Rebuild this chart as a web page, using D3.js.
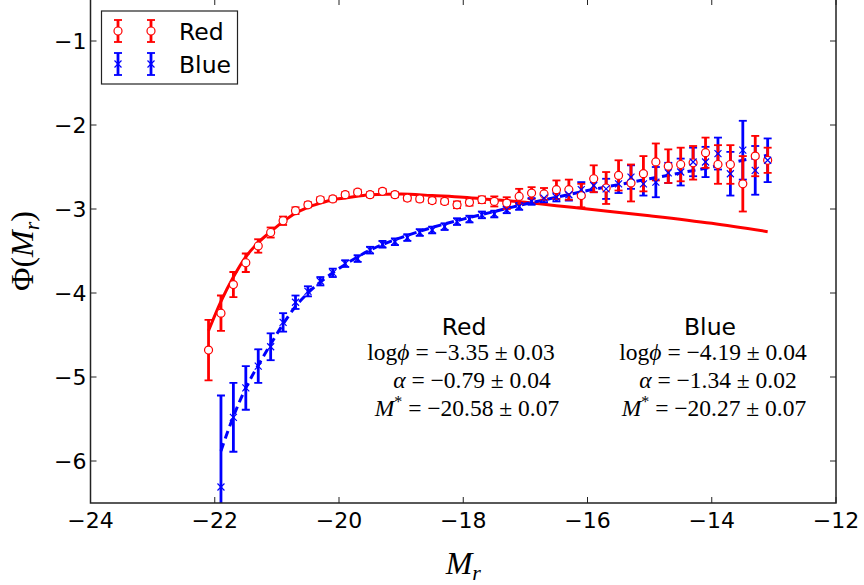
<!DOCTYPE html>
<html>
<head>
<meta charset="utf-8">
<script src="https://cdn.jsdelivr.net/npm/d3@7"></script>
<style>
  body { margin: 0; background: #fff; }
  svg { display: block; }
</style>
</head>
<body>
<svg id="lf" width="864" height="585"></svg>
<script>
// bin centres (absolute magnitude)
var redMag = [-22.1,-21.9,-21.7,-21.5,-21.3,-21.1,-20.9,-20.7,-20.5,-20.3,-20.1,-19.9,-19.7,-19.5,-19.3,-19.1,
              -18.9,-18.7,-18.5,-18.3,-18.1,-17.9,-17.7,-17.5,-17.3,-17.1,-16.9,-16.7,-16.5,-16.3,-16.1,-15.9,
              -15.7,-15.5,-15.3,-15.1,-14.9,-14.7,-14.5,-14.3,-14.1,-13.9,-13.7,-13.5,-13.3,-13.1];
var redPhi = [-4.68,-4.24,-3.90,-3.64,-3.44,-3.28,-3.14,-3.02,-2.95,-2.89,-2.88,-2.83,-2.80,-2.83,-2.79,-2.83,
              -2.87,-2.88,-2.90,-2.91,-2.95,-2.92,-2.89,-2.91,-2.93,-2.85,-2.81,-2.82,-2.77,-2.77,-2.84,-2.64,
              -2.75,-2.60,-2.69,-2.58,-2.44,-2.49,-2.47,-2.45,-2.33,-2.47,-2.47,-2.70,-2.37,-2.42];
var redErr = [0.36,0.21,0.15,0.11,0.08,0.06,0.05,0.04,0.03,0.03,0.03,0.03,0.03,0.03,0.03,0.03,
              0.03,0.03,0.03,0.03,0.04,0.04,0.04,0.06,0.07,0.09,0.07,0.07,0.11,0.12,0.14,0.16,
              0.19,0.18,0.22,0.21,0.22,0.20,0.20,0.20,0.18,0.23,0.23,0.33,0.24,0.15];

var blueMag = [-21.9,-21.7,-21.5,-21.3,-21.1,-20.9,-20.7,-20.5,-20.3,-20.1,-19.9,-19.7,-19.5,-19.3,-19.1,
               -18.9,-18.7,-18.5,-18.3,-18.1,-17.9,-17.7,-17.5,-17.3,-17.1,-16.9,-16.7,-16.5,-16.3,-16.1,
               -15.9,-15.7,-15.5,-15.3,-15.1,-14.9,-14.7,-14.5,-14.3,-14.1,-13.9,-13.7,-13.5,-13.3,-13.1];
var bluePhi = [-6.31,-5.48,-5.13,-4.87,-4.64,-4.35,-4.11,-3.98,-3.86,-3.76,-3.65,-3.59,-3.49,-3.42,-3.39,
               -3.34,-3.28,-3.25,-3.21,-3.15,-3.12,-3.07,-3.06,-3.01,-2.97,-2.91,-2.87,-2.86,-2.83,-2.77,
               -2.72,-2.76,-2.70,-2.62,-2.70,-2.68,-2.57,-2.56,-2.44,-2.44,-2.34,-2.58,-2.30,-2.54,-2.42];
var blueErr = [1.09,0.41,0.26,0.20,0.16,0.11,0.08,0.06,0.05,0.05,0.04,0.04,0.04,0.04,0.04,
               0.04,0.04,0.04,0.04,0.04,0.04,0.04,0.04,0.04,0.04,0.04,0.05,0.05,0.07,0.09,
               0.08,0.12,0.11,0.14,0.14,0.18,0.12,0.16,0.17,0.18,0.19,0.26,0.35,0.29,0.26];

// Schechter fits
var redFitMag = [-22.1,-21.9,-21.7,-21.5,-21.3,-21.1,-20.9,-20.7,-20.5,-20.3,-20.1,-19.9,-19.5,-19.0,-18.5,-18.0,-17.5,-17.0,-16.5,-16.0,-15.0,-14.0,-13.1];
var redFitPhi = [-4.45,-4.10,-3.81,-3.57,-3.40,-3.27,-3.15,-3.05,-2.98,-2.93,-2.89,-2.87,-2.83,-2.82,-2.84,-2.86,-2.89,-2.92,-2.96,-3.00,-3.08,-3.17,-3.27];
var blueFitMag = [-21.9,-21.7,-21.5,-21.3,-21.1,-20.9,-20.7,-20.5,-20.3,-20.1,-19.9,-19.5,-19.0,-18.5,-18.0,-17.5,-17.0,-16.5,-16.0,-15.5,-15.0,-14.5,-14.0,-13.5,-13.1];
var blueFitPhi = [-5.88,-5.47,-5.13,-4.86,-4.61,-4.37,-4.16,-4.00,-3.87,-3.76,-3.66,-3.49,-3.34,-3.22,-3.12,-3.03,-2.94,-2.86,-2.78,-2.71,-2.64,-2.57,-2.50,-2.42,-2.36];

var xTicks = [-24,-22,-20,-18,-16,-14,-12];
var yTicks = [-6,-5,-4,-3,-2,-1];

var redParams = ["Red", "log", "\u03d5", "\u22123.35 \u00b1 0.03", "\u22120.79 \u00b1 0.04", "\u221220.58 \u00b1 0.07"];
var blueParams = ["Blue", "log", "\u03d5", "\u22124.19 \u00b1 0.04", "\u22121.34 \u00b1 0.02", "\u221220.27 \u00b1 0.07"];

var dim = { width: 864, height: 585 };
var margin = { left: 90.5, right: 28, top: -1, bottom: 82 };

var RED = "#ff0000", BLUE = "#0000ff";
var sans = "'DejaVu Sans', sans-serif";
var serif = "'Liberation Serif', 'DejaVu Serif', serif";

var svg = d3.select("#lf");

var xScale = d3.scaleLinear().domain([-24, -12]).range([margin.left, dim.width - margin.right]);
var yScale = d3.scaleLinear().domain([-6.5, -0.5]).range([dim.height - margin.bottom, margin.top]);

svg.append("defs").append("clipPath").attr("id", "plotclip")
    .append("rect")
    .attr("x", xScale(-24)).attr("y", yScale(-0.5))
    .attr("width", xScale(-12) - xScale(-24))
    .attr("height", yScale(-6.5) - yScale(-0.5));

var plot = svg.append("g").attr("clip-path", "url(#plotclip)");

var red = redMag.map((m, i) => ({ m: m, phi: redPhi[i], err: redErr[i] }));
var blue = blueMag.map((m, i) => ({ m: m, phi: bluePhi[i], err: blueErr[i] }));

function errorBars(g, data, color) {
    var cap = 4;
    g.selectAll(".bar").data(data).enter().append("line")
        .attr("x1", d => xScale(d.m)).attr("x2", d => xScale(d.m))
        .attr("y1", d => yScale(d.phi + d.err)).attr("y2", d => yScale(d.phi - d.err))
        .attr("stroke", color).attr("stroke-width", 2.8);
    [1, -1].forEach(function(s) {
        g.selectAll(".cap" + s).data(data).enter().append("line")
            .attr("x1", d => xScale(d.m) - cap).attr("x2", d => xScale(d.m) + cap)
            .attr("y1", d => yScale(d.phi + s * d.err)).attr("y2", d => yScale(d.phi + s * d.err))
            .attr("stroke", color).attr("stroke-width", 1.8);
    });
}

var line = d3.line().x(d => xScale(d[0])).y(d => yScale(d[1])).curve(d3.curveMonotoneX);

// fitted curves
plot.append("path")
    .datum(redFitMag.map((m, i) => [m, redFitPhi[i]]))
    .attr("d", line).attr("fill", "none")
    .attr("stroke", RED).attr("stroke-width", 3);

plot.append("path")
    .datum(blueFitMag.map((m, i) => [m, blueFitPhi[i]]))
    .attr("d", line).attr("fill", "none")
    .attr("stroke", BLUE).attr("stroke-width", 3)
    .attr("stroke-dasharray", "8,5");

errorBars(plot.append("g"), blue, BLUE);
errorBars(plot.append("g"), red, RED);

plot.append("g").selectAll("circle").data(red).enter().append("circle")
    .attr("cx", d => xScale(d.m)).attr("cy", d => yScale(d.phi))
    .attr("r", 4).attr("fill", "#fff")
    .attr("stroke", RED).attr("stroke-width", 1.2);

function xMark(g, cx, cy, s, color) {
    g.append("path")
        .attr("d", `M${cx - s},${cy - s}L${cx + s},${cy + s}M${cx - s},${cy + s}L${cx + s},${cy - s}`)
        .attr("stroke", color).attr("stroke-width", 1.2).attr("fill", "none");
}
var bm = plot.append("g");
blue.forEach(d => xMark(bm, xScale(d.m), yScale(d.phi), 3.5, BLUE));

// frame
var frame = svg.append("g");
frame.append("rect")
    .attr("x", xScale(-24)).attr("y", yScale(-0.5))
    .attr("width", xScale(-12) - xScale(-24))
    .attr("height", yScale(-6.5) - yScale(-0.5))
    .attr("fill", "none").attr("stroke", "#222").attr("stroke-width", 1.5);

// inward ticks on all four sides
var tl = 6;
xTicks.forEach(function(t) {
    var x = xScale(t);
    frame.append("line").attr("x1", x).attr("x2", x)
        .attr("y1", yScale(-6.5)).attr("y2", yScale(-6.5) - tl).attr("stroke", "#222");
    frame.append("line").attr("x1", x).attr("x2", x)
        .attr("y1", yScale(-0.5)).attr("y2", yScale(-0.5) + tl).attr("stroke", "#222");
    frame.append("text").attr("x", x).attr("y", yScale(-6.5) + 25)
        .attr("text-anchor", "middle").attr("font-family", sans).attr("font-size", 22)
        .text(String(t).replace("-", "\u2212"));
});
yTicks.forEach(function(t) {
    var y = yScale(t);
    frame.append("line").attr("y1", y).attr("y2", y)
        .attr("x1", xScale(-24)).attr("x2", xScale(-24) + tl).attr("stroke", "#222");
    frame.append("line").attr("y1", y).attr("y2", y)
        .attr("x1", xScale(-12)).attr("x2", xScale(-12) - tl).attr("stroke", "#222");
    frame.append("text").attr("x", xScale(-24) - 4).attr("y", y + 8)
        .attr("text-anchor", "end").attr("font-family", sans).attr("font-size", 22)
        .text(String(t).replace("-", "\u2212"));
});

// axis labels
var xl = svg.append("text").attr("x", (xScale(-24) + xScale(-12)) / 2).attr("y", 574)
    .attr("text-anchor", "middle").attr("font-family", serif).attr("font-size", 32);
xl.append("tspan").attr("font-style", "italic").text("M");
xl.append("tspan").attr("font-style", "italic").attr("font-size", 22).attr("dy", 6).text("r");

var yl = svg.append("text")
    .attr("transform", "translate(33," + ((yScale(-0.5) + yScale(-6.5)) / 2) + ") rotate(-90)")
    .attr("text-anchor", "middle").attr("font-family", serif).attr("font-size", 32);
yl.append("tspan").text("\u03a6(");
yl.append("tspan").attr("font-style", "italic").text("M");
yl.append("tspan").attr("font-style", "italic").attr("font-size", 22).attr("dy", 6).text("r");
yl.append("tspan").attr("dy", -6).text(")");

// fit parameter annotations
function params(cx, p) {
    var g = svg.append("g").attr("font-size", 23.5);
    g.append("text").attr("x", cx[0]).attr("y", 335).attr("text-anchor", "middle")
        .attr("font-family", sans).attr("font-size", 23.5).text(p[0]);
    var t1 = g.append("text").attr("x", cx[1]).attr("y", 360).attr("text-anchor", "middle").attr("font-family", serif);
    t1.append("tspan").text(p[1]);
    t1.append("tspan").attr("font-style", "italic").text(p[2]);
    t1.append("tspan").text(" = " + p[3]);
    var t2 = g.append("text").attr("x", cx[2]).attr("y", 388).attr("text-anchor", "middle").attr("font-family", serif);
    t2.append("tspan").attr("font-style", "italic").text("\u03b1");
    t2.append("tspan").text(" = " + p[4]);
    var t3 = g.append("text").attr("x", cx[3]).attr("y", 416).attr("text-anchor", "middle").attr("font-family", serif);
    t3.append("tspan").attr("font-style", "italic").text("M");
    t3.append("tspan").attr("font-size", 16).attr("dy", -9).text("*");
    t3.append("tspan").attr("dy", 9).text(" = " + p[5]);
}
params([464, 461, 472, 467], redParams);
params([710, 713, 718, 714], blueParams);

// legend
var lg = svg.append("g");
lg.append("rect").attr("x", 101.5).attr("y", 11).attr("width", 136).attr("height", 73)
    .attr("fill", "#fff").attr("stroke", "#222").attr("stroke-width", 1.2);
var legendItems = [
    { name: "Red", color: RED, y: 31 },
    { name: "Blue", color: BLUE, y: 64 }
];
legendItems.forEach(function(it) {
    [118, 151].forEach(function(x) {
        lg.append("line").attr("x1", x).attr("x2", x).attr("y1", it.y - 11).attr("y2", it.y + 11)
            .attr("stroke", it.color).attr("stroke-width", 2.8);
        [-11, 11].forEach(function(o) {
            lg.append("line").attr("x1", x - 4).attr("x2", x + 4).attr("y1", it.y + o).attr("y2", it.y + o)
                .attr("stroke", it.color).attr("stroke-width", 1.8);
        });
        if (it.name === "Red") {
            lg.append("circle").attr("cx", x).attr("cy", it.y).attr("r", 4)
                .attr("fill", "#fff").attr("stroke", it.color).attr("stroke-width", 1.2);
        } else {
            xMark(lg, x, it.y, 3.5, it.color);
        }
    });
    lg.append("text").attr("x", 179).attr("y", it.y + 8.5).attr("font-family", sans).attr("font-size", 23.5)
        .text(it.name);
});
</script>
</body>
</html>
